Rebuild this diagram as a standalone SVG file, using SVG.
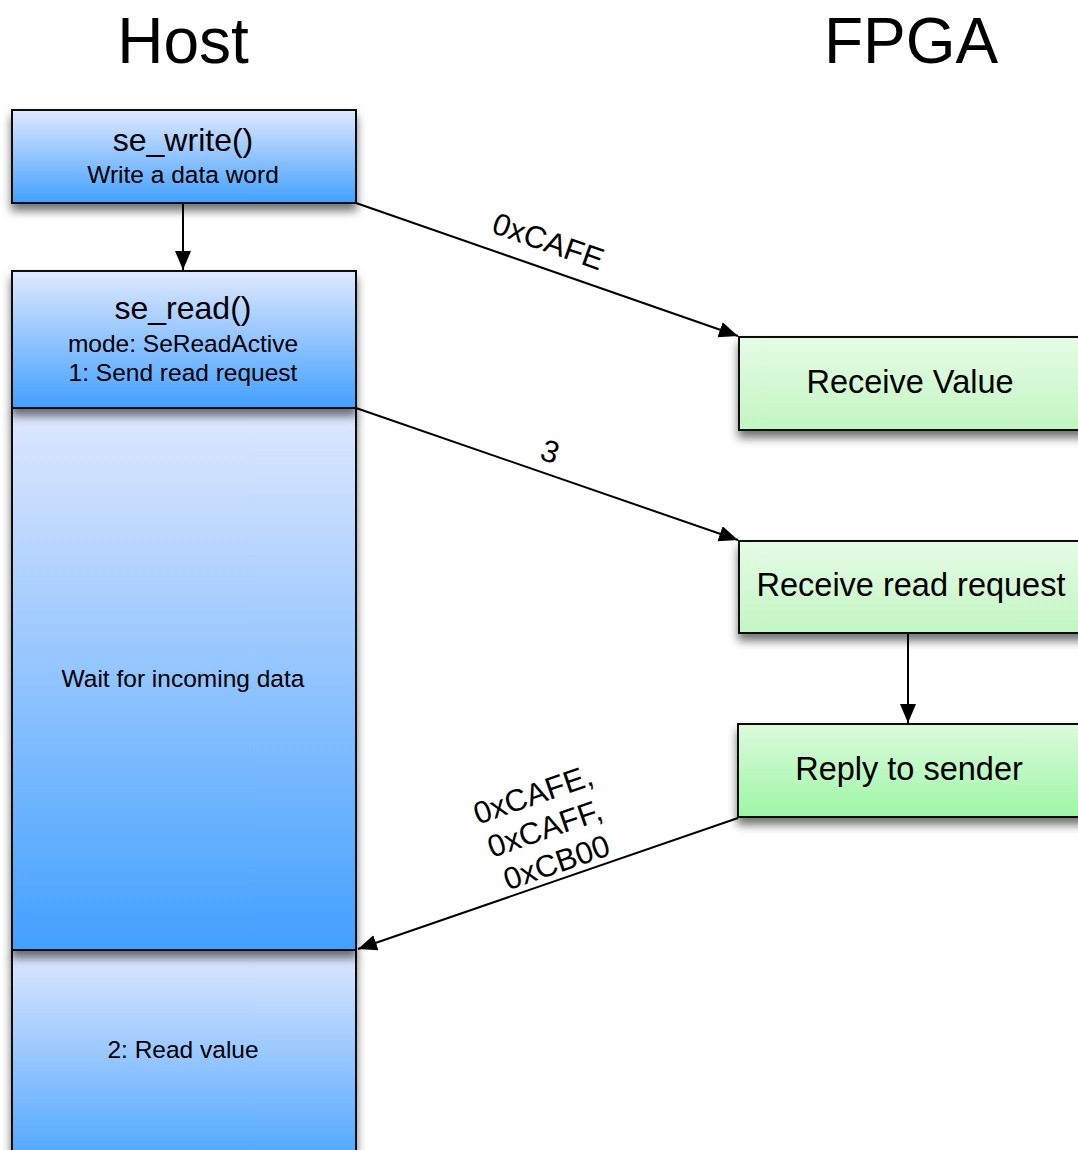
<svg xmlns="http://www.w3.org/2000/svg" width="1078" height="1150" viewBox="0 0 1078 1150">
<defs>
  <linearGradient id="blue" x1="0" y1="0" x2="0" y2="1">
    <stop offset="0" stop-color="#e0e8ff"/>
    <stop offset="1" stop-color="#42a0ff"/>
  </linearGradient>
  <linearGradient id="green" x1="0" y1="0" x2="0" y2="1">
    <stop offset="0" stop-color="#e6fbe6"/>
    <stop offset="1" stop-color="#c2f6c2"/>
  </linearGradient>
  <linearGradient id="green2" x1="0" y1="0" x2="0" y2="1">
    <stop offset="0" stop-color="#dcfadd"/>
    <stop offset="1" stop-color="#9ef6a6"/>
  </linearGradient>
  <filter id="shadow" x="-10%" y="-10%" width="130%" height="140%">
    <feDropShadow dx="0" dy="7" stdDeviation="5" flood-color="#000" flood-opacity="0.55"/>
  </filter>
  <marker id="arrow" markerUnits="userSpaceOnUse" markerWidth="20" markerHeight="18" refX="19" refY="8" orient="auto">
    <path d="M0,0 L19,8 L0,16 z" fill="#000"/>
  </marker>
</defs>
<style>
  text { font-family: "Liberation Sans", Arial, sans-serif; fill: #000; }
  .box { stroke: #111; stroke-width: 2; }
  .title { font-size: 64px; text-anchor: middle; }
  .big { font-size: 32px; text-anchor: middle; }
  .med { font-size: 24.5px; text-anchor: middle; }
  .fp { font-size: 32.5px; text-anchor: middle; }
  .lbl { font-size: 31px; text-anchor: middle; }
  .conn { stroke: #000; stroke-width: 2; fill: none; marker-end: url(#arrow); }
</style>
<rect width="1078" height="1150" fill="#fff"/>

<text class="title" x="183" y="63">Host</text>
<text class="title" x="911" y="63">FPGA</text>

<g id="host-readvalue">
  <rect class="box" x="12" y="950" width="344" height="230" fill="url(#blue)" filter="url(#shadow)"/>
  <text class="med" x="183" y="1058">2: Read value</text>
</g>
<g id="host-wait">
  <rect class="box" x="12" y="408" width="344" height="542" fill="url(#blue)" filter="url(#shadow)"/>
  <text class="med" x="183" y="687">Wait for incoming data</text>
</g>
<g id="host-seread">
  <rect class="box" x="12" y="271" width="344" height="137" fill="url(#blue)" filter="url(#shadow)"/>
  <text class="big" x="183" y="319">se_read()</text>
  <text class="med" x="183" y="352">mode: SeReadActive</text>
  <text class="med" x="183" y="381">1: Send read request</text>
</g>
<g id="host-sewrite">
  <rect class="box" x="12" y="110" width="344" height="93" fill="url(#blue)" filter="url(#shadow)"/>
  <text class="big" x="183" y="151">se_write()</text>
  <text class="med" x="183" y="183">Write a data word</text>
</g>

<g id="fpga-receive-value">
  <rect class="box" x="739" y="337" width="360" height="93" fill="url(#green)" filter="url(#shadow)"/>
  <text class="fp" x="910" y="393">Receive Value</text>
</g>
<g id="fpga-receive-read">
  <rect class="box" x="739" y="541" width="360" height="92" fill="url(#green)" filter="url(#shadow)"/>
  <text class="fp" x="911" y="596">Receive read request</text>
</g>
<g id="fpga-reply">
  <rect class="box" x="738" y="724" width="360" height="93" fill="url(#green2)" filter="url(#shadow)"/>
  <text class="fp" x="909" y="780">Reply to sender</text>
</g>

<g id="connectors">
  <line class="conn" x1="183" y1="204" x2="183" y2="270"/>
  <line class="conn" x1="356" y1="203" x2="738" y2="336"/>
  <line class="conn" x1="356" y1="408" x2="738" y2="540"/>
  <line class="conn" x1="908" y1="634" x2="908" y2="723"/>
  <line class="conn" x1="738" y1="818" x2="358" y2="949"/>
  <text class="lbl" transform="translate(548,242) rotate(19.3)" y="10">0xCAFE</text>
  <text class="lbl" transform="translate(550,452) rotate(19.1)" y="10">3</text>
  <g transform="translate(545,829) rotate(-19.1)">
    <text class="lbl" x="0" y="-26">0xCAFE,</text>
    <text class="lbl" x="0" y="10">0xCAFF,</text>
    <text class="lbl" x="0" y="46">0xCB00</text>
  </g>
</g>
</svg>
